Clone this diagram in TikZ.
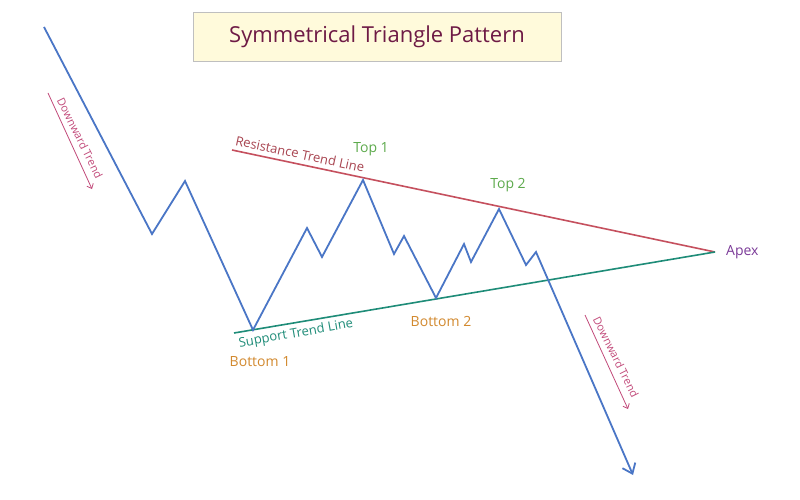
\documentclass[tikz,border=0pt]{standalone}
\usepackage{fontspec}
\setmainfont{Open Sans}
\usetikzlibrary{arrows.meta}
\definecolor{price}{HTML}{4A76C6}
\definecolor{resist}{HTML}{C5505E}
\definecolor{support}{HTML}{1E8C78}
\definecolor{titlefill}{HTML}{FFFADB}
\definecolor{titletext}{HTML}{6E1A45}
\definecolor{topc}{HTML}{5DAA4C}
\definecolor{botc}{HTML}{D2892E}
\definecolor{apexc}{HTML}{7B3A98}
\definecolor{trendc}{HTML}{C24A7A}
\begin{document}
\begin{tikzpicture}[x=1pt,y=-1pt,
  pline/.style={draw=price,line width=1.8pt,line join=miter},
  tline/.style={line width=1.6pt},
  lbl/.style={font=\fontsize{14}{16}\selectfont,inner sep=0pt},
  dtl/.style={font=\fontsize{11}{13}\selectfont,inner sep=0pt,text=trendc,rotate=-63.5},
  trendarrow/.style={draw=trendc,line width=0.8pt,-{Straight Barb[length=4pt,width=7pt]}}]
\useasboundingbox (0,0) rectangle (800,500);
\fill[white] (0,0) rectangle (800,500);
% title
\node[draw=black!25,fill=titlefill,minimum width=368pt,minimum height=49pt,inner sep=0pt,
  text=titletext,font=\fontsize{22}{25}\selectfont] (title) at (377,36.5) {Symmetrical Triangle Pattern};
% key points
\coordinate (s) at (44,27);
\coordinate (p1) at (152,234);
\coordinate (p2) at (185,181);
\coordinate (b1) at (253,330);
\coordinate (p3) at (307,228);
\coordinate (p4) at (322,257);
\coordinate (t1) at (363,180);
\coordinate (p5) at (394,254);
\coordinate (p6) at (404,236);
\coordinate (b2) at (436,298);
\coordinate (p7) at (464,244);
\coordinate (p8) at (471,262);
\coordinate (t2) at (499,209);
\coordinate (p9) at (526,265);
\coordinate (p10) at (536,252);
\coordinate (e) at (633,475);
\coordinate (apex) at (715,252);
\coordinate (rs) at (232,150);
\coordinate (ss) at (234,333);
% trend lines
\draw[tline,draw=resist] (rs) -- (apex);
\draw[tline,draw=support] (ss) -- (apex);
% price path
\draw[pline,-{Straight Barb[length=9pt,width=14pt,line width=1.8pt]}] (s) -- (p1) -- (p2) -- (b1) -- (p3) -- (p4) -- (t1) -- (p5) -- (p6) -- (b2) -- (p7) -- (p8) -- (t2) -- (p9) -- (p10) -- (e);
% labels
\node[lbl,text=topc] (lt1) at (371,149) {Top 1};
\node[lbl,text=topc] (lt2) at (508,185) {Top 2};
\node[lbl,text=apexc,anchor=west] (lapex) at (726,252) {Apex};
\node[lbl,text=botc] (lb2) at (441,321) {Bottom 2};
\node[lbl,text=botc] (lb1) at (260,362) {Bottom 1};
\node[lbl,text=resist!85!black,font=\fontsize{13}{15}\selectfont,rotate=-12] (lres) at (300,154) {Resistance Trend Line};
\node[lbl,text=support,font=\fontsize{13}{15}\selectfont,rotate=10] (lsup) at (296,334) {Support Trend Line};
% downward trend annotations
\coordinate (da1) at (48,93);
\coordinate (da2) at (92,189);
\draw[trendarrow] (da1) -- (da2);
\node[dtl] (ldt1) at (80,138) {Downward Trend};
\coordinate (db1) at (585,315);
\coordinate (db2) at (628,409);
\draw[trendarrow] (db1) -- (db2);
\node[dtl] (ldt2) at (616,357) {Downward Trend};
\end{tikzpicture}
\end{document}
